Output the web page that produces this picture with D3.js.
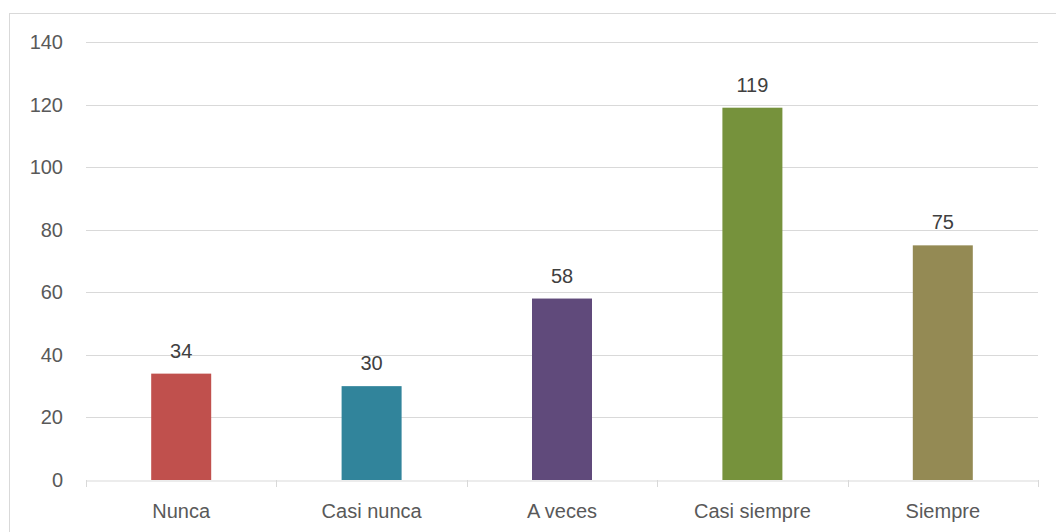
<!doctype html>
<html lang="es">
<head>
  <meta charset="utf-8">
  <title>Frecuencia</title>
  <script src="https://cdn.jsdelivr.net/npm/d3@7"></script>
  <style>
    body { margin: 0; background: #fff; font-family: "Liberation Sans", "DejaVu Sans", sans-serif; }
  </style>
</head>
<body>
  <svg></svg>
  <script>
    var categories = ["Nunca", "Casi nunca", "A veces", "Casi siempre", "Siempre"];
    var values = [34, 30, 58, 119, 75];
    var colors = ["#C0504D", "#31849B", "#604A7B", "#76923C", "#948A54"];
    var yTicks = [0, 20, 40, 60, 80, 100, 120, 140];

    var W = 1056, H = 532;
    var svg = d3.select("svg").attr("width", W).attr("height", H);

    // chart frame
    svg.append("rect")
      .attr("x", 9.5).attr("y", 13.5)
      .attr("width", W).attr("height", H)
      .attr("fill", "none").attr("stroke", "#d9d9d9");

    var margin = { left: 86, right: 18, top: 42, bottom: 52 };
    var x = d3.scaleBand().domain(categories).range([margin.left, W - margin.right]).paddingInner(0).paddingOuter(0);
    var y = d3.scaleLinear().domain([0, 140]).range([H - margin.bottom, margin.top]);

    // gridlines
    svg.append("g").selectAll("line")
      .data(yTicks.filter(d => d > 0))
      .join("line")
      .attr("x1", margin.left).attr("x2", W - margin.right)
      .attr("y1", d => Math.round(y(d)) + 0.5).attr("y2", d => Math.round(y(d)) + 0.5)
      .attr("stroke", "#d9d9d9");

    // y labels
    svg.append("g").selectAll("text")
      .data(yTicks)
      .join("text")
      .attr("x", 63).attr("y", d => y(d))
      .attr("dy", "0.35em")
      .attr("text-anchor", "end")
      .attr("fill", "#595959")
      .style("font-size", "20px")
      .text(d => d);

    // x axis
    var xAxis = svg.append("g")
      .attr("transform", "translate(0," + (Math.round(y(0)) + 0.5) + ")")
      .call(d3.axisBottom(x).tickSize(0).tickPadding(23));
    xAxis.select(".domain").attr("stroke", "#d9d9d9");
    xAxis.selectAll(".tick text").attr("fill", "#595959").style("font-size", "20px")
      .style("font-family", "'Liberation Sans', sans-serif");

    var bounds = categories.map(c => x(c)).concat([x.range()[1]]);
    svg.append("g").selectAll("line.sep")
      .data(bounds)
      .join("line")
      .attr("x1", d => Math.round(d) + 0.5).attr("x2", d => Math.round(d) + 0.5)
      .attr("y1", y(0)).attr("y2", y(0) + 7)
      .attr("stroke", "#d9d9d9");

    // bars
    var bw = 60;
    svg.append("g").selectAll("rect")
      .data(values)
      .join("rect")
      .attr("x", (d, i) => x(categories[i]) + x.bandwidth() / 2 - bw / 2)
      .attr("y", d => y(d))
      .attr("width", bw)
      .attr("height", d => y(0) - y(d))
      .attr("fill", (d, i) => colors[i]);

    // data labels
    svg.append("g").selectAll("text")
      .data(values)
      .join("text")
      .attr("x", (d, i) => x(categories[i]) + x.bandwidth() / 2)
      .attr("y", d => y(d) - 16)
      .attr("text-anchor", "middle")
      .attr("fill", "#404040")
      .style("font-size", "20px")
      .text(d => d);
  </script>
</body>
</html>
